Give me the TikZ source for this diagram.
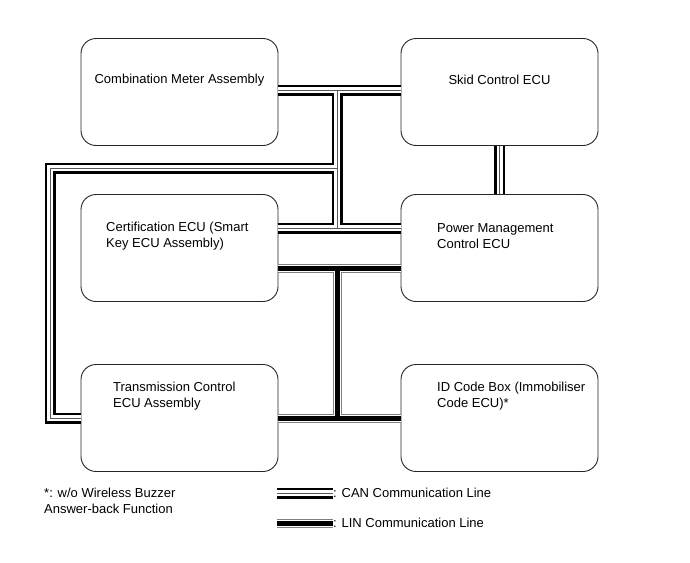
\documentclass[tikz,border=0pt]{standalone}
\usepackage{fontspec}
\setmainfont{Liberation Sans}
\usetikzlibrary{calc, positioning}

\tikzset{
  ecu/.style={draw=black!85, line width=0.9pt, rounded corners=15pt, fill=white,
    minimum width=197pt, minimum height=107pt, inner sep=0pt},
  ecutext/.style={font=\fontsize{13}{16}\selectfont, align=left, inner sep=0pt},
}

\begin{document}
\begin{tikzpicture}[x=1pt, y=-1pt]
\useasboundingbox (0,0) rectangle (690,562);
\def\xl{179.5}
\def\xr{499.5}
\def\ya{92}
\def\yb{248}
\def\yc{418}
\def\xj{337}

\node[ecu] (cm) at (\xl,\ya) {};
\node[ecu] (skid) at (\xr,\ya) {};
\node[ecu] (cert) at (\xl,\yb) {};
\node[ecu] (pmc) at (\xr,\yb) {};
\node[ecu] (trans) at (\xl,\yc) {};
\node[ecu] (idbox) at (\xr,\yc) {};

\node[ecutext] (cmtxt) at (\xl,80) {Combination Meter Assembly};
\node[ecutext] (skidtxt) at (\xr,80) {Skid Control ECU};
\node[ecutext, anchor=west] (certtxt) at (106,236) {Certification ECU (Smart\\Key ECU Assembly)};
\node[ecutext, anchor=west] (pmctxt) at (437,236) {Power Management\\Control ECU};
\node[ecutext, anchor=west] (transtxt) at (113,396) {Transmission Control\\ECU Assembly};
\node[ecutext, anchor=west] (idtxt) at (437,396) {ID Code Box (Immobiliser\\Code ECU)*};

\coordinate (ja) at (\xj,90);
\coordinate (jb) at (\xj,168);
\coordinate (jc) at (\xj,228);
\coordinate (lt) at (50,168);
\coordinate (lb) at (50,\yc);
\coordinate (la) at (\xj,268);
\coordinate (lc) at (\xj,\yc);

\node[ecutext, anchor=west] (cantxt) at (333,493) {: CAN Communication Line};
\node[ecutext, anchor=west] (lintxt) at (333,523) {: LIN Communication Line};
\coordinate (cankey) at (277,493);
\coordinate (linkey) at (277,523);

\foreach \w/\c in {11pt/black, 6pt/white, 1pt/black!65} {
  \draw[line width=\w, draw=\c]
    (cm.east |- ja) -- (skid.west |- ja)
    (ja) -- (jc)
    (cert.east |- jc) -- (pmc.west |- jc)
    (trans.west) -- (lb) -- (lt) -- (jb)
    (skid.south) -- (pmc.north)
    (cankey) -- (cantxt.west);
}
\foreach \w/\c in {9pt/black!50, 7pt/white, 5pt/black} {
  \draw[line width=\w, draw=\c]
    (cert.east |- la) -- (pmc.west |- la)
    (la) -- (lc)
    (trans.east) -- (idbox.west)
    (linkey) -- (lintxt.west);
}

\node[ecutext, anchor=west] (note) at (44,501) {*: w/o Wireless Buzzer\\Answer-back Function};
\end{tikzpicture}
\end{document}
